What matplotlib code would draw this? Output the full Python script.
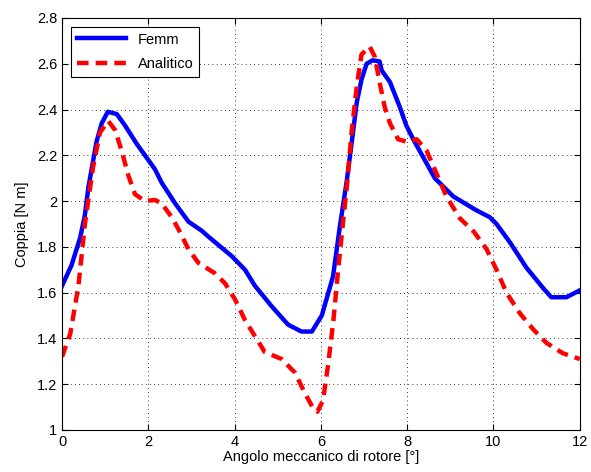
import numpy as np
import matplotlib
matplotlib.use("Agg")
import matplotlib.pyplot as plt

plt.rcParams['font.family'] = ['Liberation Sans', 'DejaVu Sans']

# Femm
x_femm = [0.0, 0.22, 0.42, 0.53, 0.61, 0.80, 0.92, 1.06, 1.27, 1.46, 1.73, 2.15, 2.31,
          2.62, 2.93, 3.24, 3.39, 3.93, 4.24, 4.47, 4.86, 5.24, 5.55, 5.79, 6.02, 6.28,
          6.44, 6.60, 6.71, 6.83, 6.94, 7.06, 7.20, 7.36, 7.41, 7.60, 7.83, 7.98, 8.14,
          8.64, 9.07, 9.60, 9.91, 10.07, 10.38, 10.76, 11.15, 11.34, 11.50, 11.69, 12.0]
y_femm = [1.63, 1.72, 1.84, 1.94, 2.06, 2.26, 2.34, 2.39, 2.38, 2.33, 2.25, 2.14, 2.08,
          1.99, 1.91, 1.87, 1.845, 1.76, 1.70, 1.63, 1.54, 1.46, 1.43, 1.43, 1.50, 1.67,
          1.89, 2.09, 2.25, 2.43, 2.53, 2.60, 2.615, 2.61, 2.57, 2.52, 2.41, 2.33, 2.27,
          2.10, 2.02, 1.96, 1.93, 1.90, 1.82, 1.71, 1.62, 1.58, 1.58, 1.58, 1.61]

# Analitico
x_an = [0.0, 0.19, 0.38, 0.53, 0.72, 0.88, 1.07, 1.23, 1.38, 1.54, 1.69, 1.92, 2.15,
        2.31, 2.54, 2.69, 2.93, 3.16, 3.54, 3.78, 4.01, 4.24, 4.47, 4.70, 5.09, 5.40,
        5.63, 5.82, 5.92, 6.05, 6.17, 6.29, 6.40, 6.52, 6.60, 6.71, 6.83, 6.94, 7.13,
        7.25, 7.37, 7.48, 7.60, 7.79, 7.98, 8.22, 8.45, 8.68, 8.91, 9.22, 9.55, 9.84,
        10.07, 10.30, 10.61, 10.92, 11.23, 11.61, 12.0]
y_an = [1.32, 1.42, 1.63, 1.90, 2.15, 2.30, 2.35, 2.31, 2.22, 2.11, 2.03, 2.00, 2.005,
        1.99, 1.93, 1.88, 1.79, 1.73, 1.685, 1.64, 1.57, 1.48, 1.41, 1.34, 1.31, 1.25,
        1.16, 1.095, 1.08, 1.13, 1.29, 1.48, 1.70, 1.92, 2.06, 2.30, 2.50, 2.64, 2.675,
        2.63, 2.51, 2.41, 2.34, 2.27, 2.26, 2.27, 2.22, 2.12, 2.02, 1.925, 1.865, 1.79,
        1.70, 1.60, 1.51, 1.44, 1.38, 1.335, 1.31]

fig = plt.figure(figsize=(5.91, 4.72), dpi=100)
ax = fig.add_axes([0.105, 0.089, 0.876, 0.873])
ax.plot(x_femm, y_femm, color='#0000ff', linewidth=3.2, label='Femm')
ax.plot(x_an, y_an, color='#ff0000', linewidth=3.2, linestyle=(0, (2.6, 1.6)), label='Analitico')

ax.set_xlim(0, 12)
ax.set_ylim(1, 2.8)
ax.set_xticks(np.arange(0, 13, 2))
ax.set_yticks(np.arange(1, 2.81, 0.2))
ax.set_yticklabels(['1', '1.2', '1.4', '1.6', '1.8', '2', '2.2', '2.4', '2.6', '2.8'])
ax.grid(True, linestyle=(0, (1, 4)), color='black', linewidth=0.6)
ax.tick_params(direction='in', top=True, right=True, labelsize=10.5, length=4)
ax.set_xlabel('Angolo meccanico di rotore [°]', fontsize=10.5, labelpad=1)
ax.set_ylabel('Coppia [N m]', fontsize=10.5, labelpad=6)
leg = ax.legend(loc='upper left', fontsize=10.5, fancybox=False, edgecolor='black',
                framealpha=1, handlelength=3.4, borderaxespad=0.6, labelspacing=0.7)
leg.get_frame().set_linewidth(0.8)

fig.savefig('out.png', dpi=100)
